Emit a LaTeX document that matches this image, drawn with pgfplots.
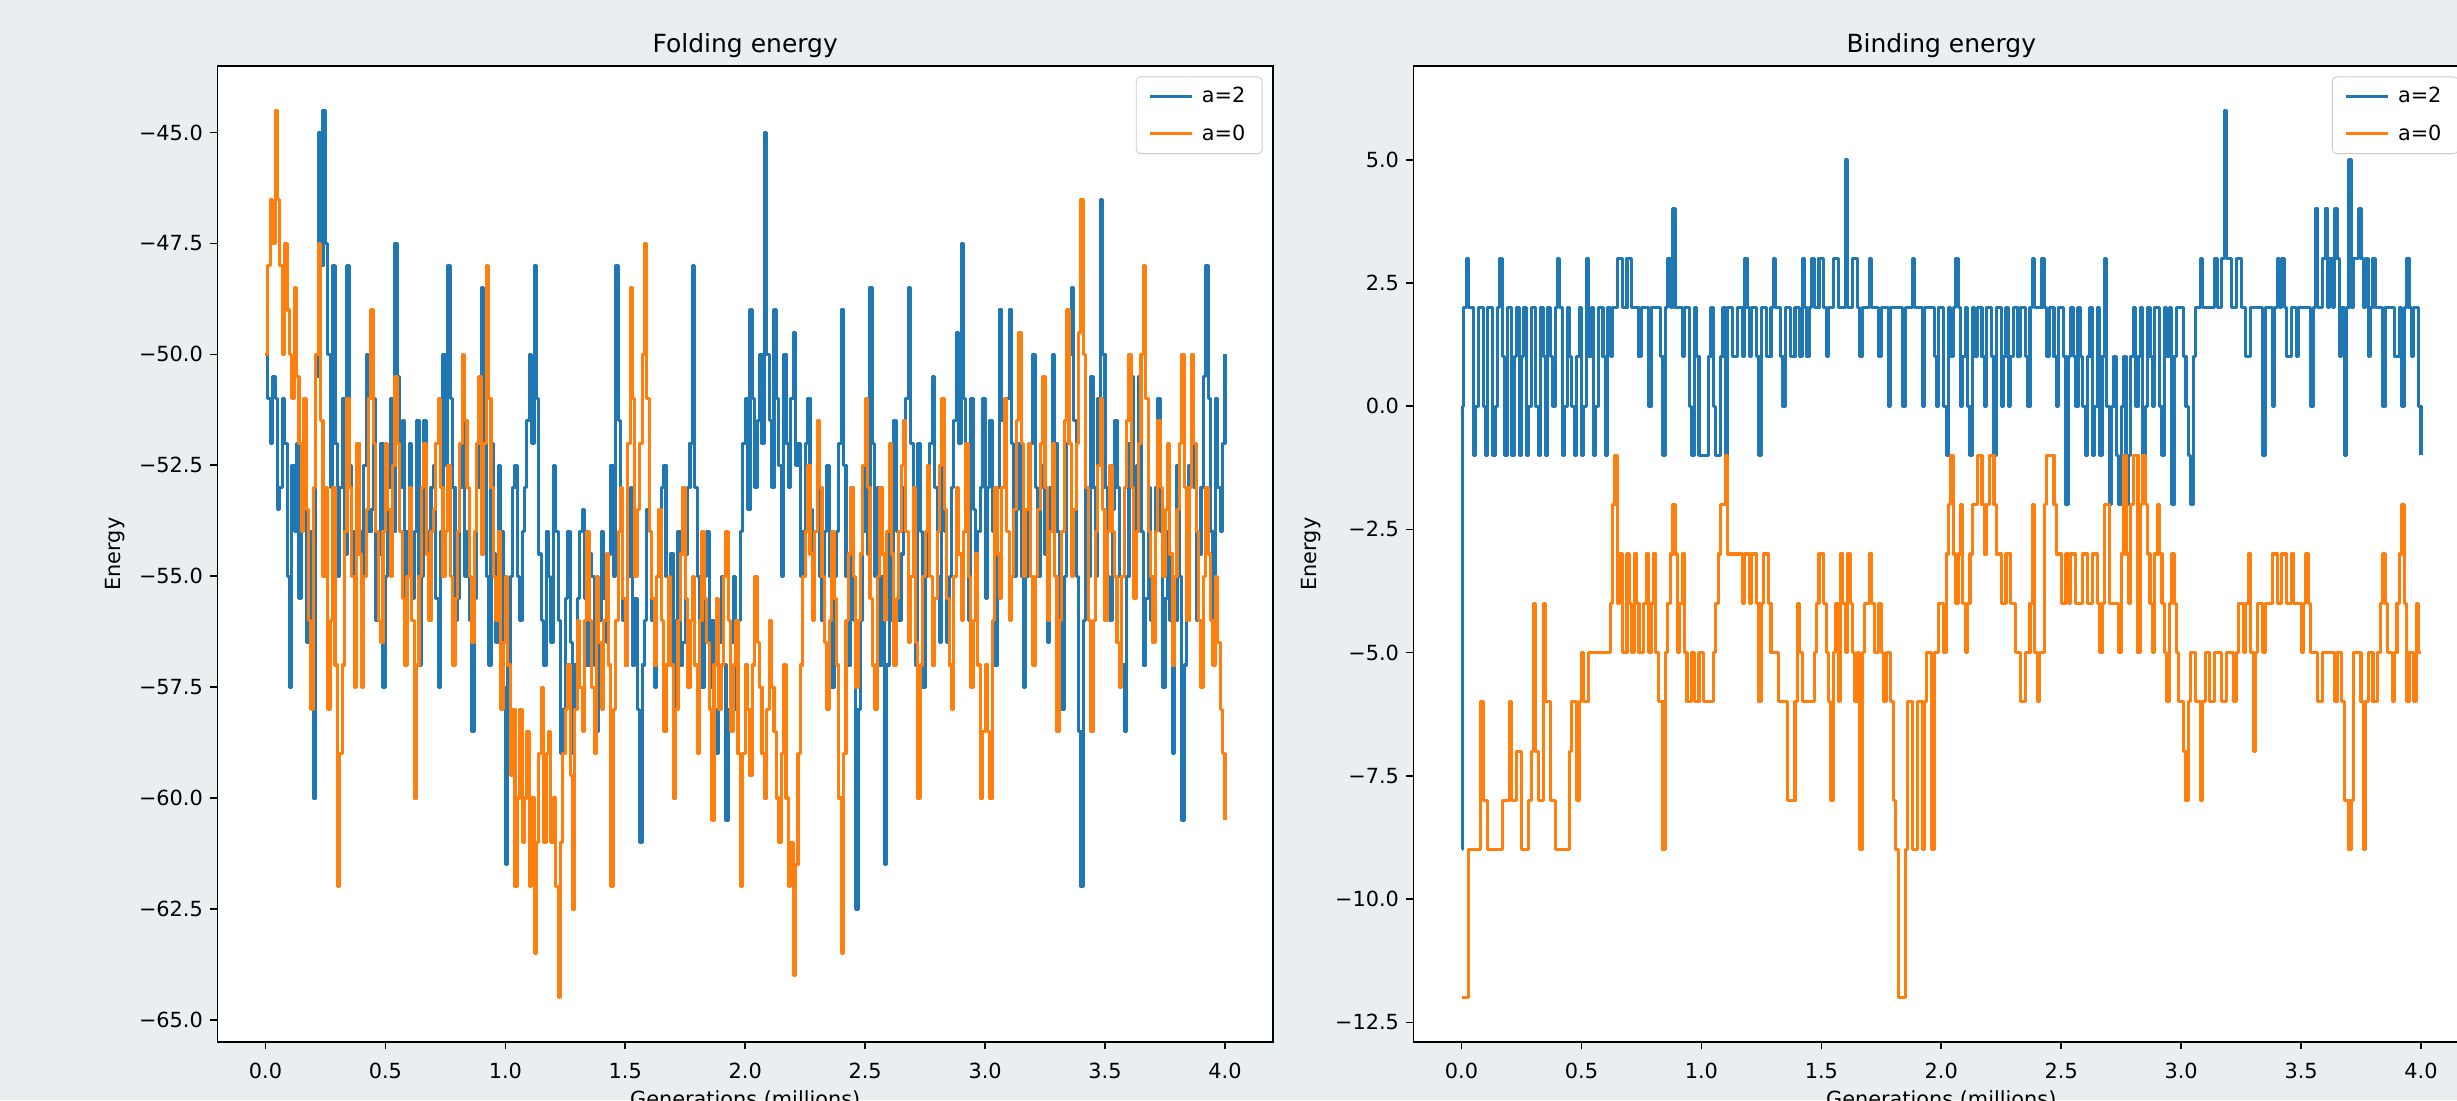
\documentclass[border=0pt]{standalone}
\usepackage{fontspec}
\setmainfont{DejaVu Sans}
\usepackage{pgfplots}
\pgfplotsset{compat=1.18}
\usepackage{pgfplotstable}
\definecolor{mblue}{HTML}{1F77B4}
\definecolor{morange}{HTML}{FF7F0E}
\definecolor{bgcol}{RGB}{233,239,241}

\pgfplotstableread{
x f2 f0
0.00 -50 -50
0.01 -51 -48
0.02 -52 -46.5
0.03 -50.5 -47.5
0.04 -51 -44.5
0.05 -53.5 -46.5
0.06 -53 -48
0.07 -51 -50
0.08 -52 -47.5
0.09 -55 -49
0.10 -57.5 -50
0.11 -52.5 -51
0.12 -54 -48.5
0.13 -52 -50.5
0.14 -55.5 -52
0.15 -54 -54
0.16 -53.5 -51
0.17 -56.5 -53.5
0.18 -56 -56
0.19 -54 -58
0.20 -60 -53
0.21 -50.5 -50
0.22 -45 -47.5
0.23 -48 -51.5
0.24 -44.5 -55
0.25 -47.5 -53
0.26 -50 -58
0.27 -53 -56
0.28 -48 -53
0.29 -52 -57
0.30 -55 -62
0.31 -53 -59
0.32 -51 -57
0.33 -54.5 -54
0.34 -48 -51
0.35 -52.5 -53
0.36 -54 -55
0.37 -55.5 -57.5
0.38 -52 -52
0.39 -54 -54.5
0.40 -55.5 -57.5
0.41 -52.5 -55
0.42 -50 -53.5
0.43 -54 -51
0.44 -53.5 -49
0.45 -51 -52
0.46 -56 -54
0.47 -54.5 -56
0.48 -52 -56.5
0.49 -57.5 -54
0.50 -55 -52
0.51 -53 -53.5
0.52 -51 -55
0.53 -54 -52.5
0.54 -47.5 -50.5
0.55 -50.5 -52
0.56 -53 -54
0.57 -51.5 -55.5
0.58 -56.5 -57
0.59 -54 -55
0.60 -52 -53
0.61 -55.5 -56
0.62 -54 -60
0.63 -51.5 -57
0.64 -57 -55
0.65 -55 -53
0.66 -51.5 -52
0.67 -54 -54.5
0.68 -55 -56
0.69 -53 -54
0.70 -52.5 -53.5
0.71 -55.5 -52
0.72 -57.5 -51
0.73 -54 -53
0.74 -50 -55
0.75 -52.5 -54
0.76 -48 -52.5
0.77 -51 -55
0.78 -53 -57
0.79 -56 -55.5
0.80 -55.5 -54
0.81 -53 -52
0.82 -51 -50
0.83 -55 -51.5
0.84 -54 -53
0.85 -56 -55
0.86 -58.5 -56.5
0.87 -55.5 -54
0.88 -53 -52
0.89 -51 -50.5
0.90 -48.5 -54.5
0.91 -52 -52
0.92 -55 -48
0.93 -57 -51
0.94 -52 -53
0.95 -54.5 -55
0.96 -56.5 -56
0.97 -52.5 -54
0.98 -54 -58
0.99 -57.5 -56.5
1.00 -61.5 -55
1.01 -57 -57
1.02 -55 -59.5
1.03 -53 -58
1.04 -52.5 -62
1.05 -55 -60
1.06 -56 -58
1.07 -54 -61
1.08 -53 -60
1.09 -51.5 -58.5
1.10 -50 -62
1.11 -52 -60
1.12 -48 -63.5
1.13 -51 -61
1.14 -54.5 -59
1.15 -56 -57.5
1.16 -57 -61
1.17 -54 -59
1.18 -55 -58.5
1.19 -56.5 -61
1.20 -52.5 -60
1.21 -54 -62
1.22 -56 -64.5
1.23 -59 -61
1.24 -58 -59
1.25 -55.5 -58
1.26 -54 -57
1.27 -56.5 -59.5
1.28 -59 -62.5
1.29 -57 -58
1.30 -55.5 -56
1.31 -54 -57.5
1.32 -53.5 -58.5
1.33 -55.5 -56
1.34 -57 -54
1.35 -54.5 -56
1.36 -55 -57.5
1.37 -57 -59
1.38 -58.5 -55
1.39 -56 -56.5
1.40 -54 -58
1.41 -55.5 -56
1.42 -56.5 -54.5
1.43 -54.5 -57
1.44 -52.5 -62
1.45 -55 -58
1.46 -48 -56
1.47 -51.5 -54
1.48 -54 -53
1.49 -56 -55.5
1.50 -57 -57
1.51 -55 -52
1.52 -53 -48.5
1.53 -57 -51
1.54 -55.5 -55
1.55 -58 -53.5
1.56 -61 -52
1.57 -57 -50
1.58 -56 -47.5
1.59 -53.5 -51
1.60 -54 -54
1.61 -56 -55.5
1.62 -57.5 -57
1.63 -55 -55
1.64 -55 -53.5
1.65 -53 -56
1.66 -52.5 -58.5
1.67 -55 -57
1.68 -56 -55
1.69 -54.5 -57
1.70 -58 -60
1.71 -56 -58
1.72 -54 -56
1.73 -57 -54.5
1.74 -56.5 -53
1.75 -54.5 -55.5
1.76 -53 -57.5
1.77 -52 -56
1.78 -48 -55
1.79 -53 -57
1.80 -55 -59
1.81 -56 -56
1.82 -57.5 -54
1.83 -55 -55.5
1.84 -54 -56.5
1.85 -57.5 -58
1.86 -56 -60.5
1.87 -58 -57
1.88 -59 -55.5
1.89 -56.5 -58
1.90 -55 -57
1.91 -57 -55
1.92 -60.5 -54
1.93 -58 -56
1.94 -56.5 -58.5
1.95 -55 -57
1.96 -58 -56
1.97 -56 -59
1.98 -54 -62
1.99 -52 -59
2.00 -51 -57
2.01 -53.5 -58
2.02 -49 -59.5
2.03 -51 -57
2.04 -53 -55
2.05 -51.5 -56.5
2.06 -50 -57.5
2.07 -52 -59
2.08 -45 -60
2.09 -50 -58
2.10 -51.5 -56
2.11 -53 -57.5
2.12 -49 -58.5
2.13 -51 -60
2.14 -52.5 -61
2.15 -55 -59
2.16 -50 -57
2.17 -52 -60
2.18 -53 -62
2.19 -51 -61
2.20 -49.5 -64
2.21 -52.5 -61.5
2.22 -52 -59
2.23 -55 -57
2.24 -54 -55
2.25 -52 -54
2.26 -51 -52.5
2.27 -53.5 -54.5
2.28 -55.5 -56
2.29 -54 -54
2.30 -53 -51.5
2.31 -55 -53
2.32 -56 -55
2.33 -54 -56.5
2.34 -52.5 -58
2.35 -55 -56
2.36 -57.5 -54
2.37 -55 -55.5
2.38 -54 -57
2.39 -52 -60
2.40 -49 -63.5
2.41 -52.5 -59
2.42 -55 -56
2.43 -57 -54.5
2.44 -53 -53
2.45 -56 -55
2.46 -62.5 -57.5
2.47 -58 -56
2.48 -56 -54.5
2.49 -54 -52.5
2.50 -52 -51
2.51 -54.5 -53
2.52 -48.5 -55.5
2.53 -52 -57
2.54 -55 -58
2.55 -53 -55
2.56 -57 -53
2.57 -55 -54.5
2.58 -61.5 -56
2.59 -57 -54
2.60 -54 -52
2.61 -56 -54.5
2.62 -51.5 -57
2.63 -54 -55.5
2.64 -56 -54
2.65 -54.5 -52.5
2.66 -53 -51.5
2.67 -51 -54
2.68 -48.5 -56.5
2.69 -52 -55
2.70 -55 -53
2.71 -57 -56.5
2.72 -52 -60
2.73 -54 -57
2.74 -57.5 -55
2.75 -55 -54
2.76 -53.5 -52.5
2.77 -52 -55
2.78 -50.5 -57
2.79 -53 -55.5
2.80 -55 -54
2.81 -56.5 -52.5
2.82 -52 -51
2.83 -54 -53.5
2.84 -56.5 -55.5
2.85 -55 -57
2.86 -53 -58
2.87 -51.5 -55
2.88 -49.5 -53
2.89 -52 -54.5
2.90 -47.5 -56
2.91 -51 -54
2.92 -54 -52
2.93 -56 -55
2.94 -51 -57.5
2.95 -53.5 -56
2.96 -56 -54.5
2.97 -54 -57
2.98 -53 -60
2.99 -51 -58.5
3.00 -55.5 -57
3.01 -53 -58.5
3.02 -51.5 -60
3.03 -54 -56
3.04 -57 -53
3.05 -53 -54.5
3.06 -49 -55.5
3.07 -51.5 -53
3.08 -53 -51
3.09 -51 -54
3.10 -49 -56
3.11 -52 -55
3.12 -55 -53.5
3.13 -53.5 -51.5
3.14 -52 -49.5
3.15 -55 -52
3.16 -57.5 -55
3.17 -55 -53.5
3.18 -53.5 -52
3.19 -52 -55
3.20 -50 -57
3.21 -53 -55
3.22 -55 -53.5
3.23 -53 -52
3.24 -52.5 -50.5
3.25 -54.5 -53
3.26 -56.5 -56
3.27 -53 -54
3.28 -50 -52
3.29 -52 -55
3.30 -54 -58.5
3.31 -56 -56
3.32 -58 -54
3.33 -55 -51.5
3.34 -52 -49
3.35 -50 -52
3.36 -48.5 -55
3.37 -51.5 -53.5
3.38 -55 -52
3.39 -58.5 -49.5
3.40 -62 -46.5
3.41 -56 -50
3.42 -53 -53
3.43 -55 -56
3.44 -50.5 -58.5
3.45 -53 -56
3.46 -55 -54
3.47 -51 -52.5
3.48 -46.5 -51
3.49 -50 -53.5
3.50 -53 -56
3.51 -55 -54
3.52 -56 -52.5
3.53 -53.5 -54
3.54 -51.5 -55
3.55 -53 -56.5
3.56 -55 -57.5
3.57 -57 -55
3.58 -58.5 -53
3.59 -55 -51.5
3.60 -52 -50
3.61 -50.5 -53
3.62 -54.5 -55.5
3.63 -52.5 -54
3.64 -50.5 -52
3.65 -54 -50
3.66 -57 -48
3.67 -55.5 -51
3.68 -53 -54
3.69 -56 -55
3.70 -55.5 -56.5
3.71 -53 -54
3.72 -51 -51.5
3.73 -54 -53
3.74 -57.5 -55
3.75 -55.5 -53.5
3.76 -54 -52
3.77 -56 -54.5
3.78 -59 -57
3.79 -56 -55
3.80 -52.5 -53.5
3.81 -55 -52
3.82 -60.5 -50
3.83 -57 -53
3.84 -55 -56
3.85 -52.5 -53
3.86 -50 -50
3.87 -53 -52
3.88 -56 -54
3.89 -54.5 -56
3.90 -53 -57.5
3.91 -50.5 -55
3.92 -48 -53
3.93 -51 -54.5
3.94 -54 -56
3.95 -56 -57
3.96 -51 -55
3.97 -53 -56.5
3.98 -54 -58
3.99 -52 -59
4.00 -50 -60.5
}\fold

\pgfplotstableread{
x b2 b0
0.000 -9 -12
0.005 0 -12
0.01 2 -12
0.02 3 -12
0.03 2 -9
0.04 2 -9
0.05 -1 -9
0.06 0 -9
0.07 2 -9
0.08 2 -6
0.09 0 -8
0.10 -1 -8
0.11 2 -9
0.12 2 -9
0.13 -1 -9
0.14 0 -9
0.15 2 -9
0.16 3 -9
0.17 1 -8
0.18 -1 -8
0.19 2 -8
0.20 2 -6
0.21 -1 -8
0.22 1 -8
0.23 2 -7
0.24 -1 -7
0.25 1 -9
0.26 2 -9
0.27 -1 -9
0.28 0 -8
0.29 2 -7
0.30 2 -4
0.31 0 -7
0.32 -1 -8
0.33 2 -8
0.34 1 -4
0.35 -1 -6
0.36 2 -6
0.37 1 -8
0.38 0 -8
0.39 2 -9
0.40 3 -9
0.41 2 -9
0.42 -1 -9
0.43 0 -9
0.44 2 -9
0.45 1 -7
0.46 0 -6
0.47 -1 -6
0.48 1 -8
0.49 2 -6
0.50 -1 -5
0.51 0 -6
0.52 3 -6
0.53 1 -5
0.54 2 -5
0.55 -1 -5
0.56 0 -5
0.57 2 -5
0.58 2 -5
0.59 1 -5
0.60 -1 -5
0.61 2 -5
0.62 1 -4
0.63 2 -2
0.64 2 -1
0.65 3 -4
0.66 3 -3
0.67 2 -5
0.68 2 -5
0.69 3 -3
0.70 3 -4
0.71 2 -5
0.72 2 -3
0.73 2 -4
0.74 1 -5
0.75 2 -5
0.76 2 -4
0.77 2 -3
0.78 0 -5
0.79 2 -4
0.80 2 -3
0.81 2 -5
0.82 2 -6
0.83 1 -6
0.84 -1 -9
0.85 2 -5
0.86 3 -4
0.87 2 -3
0.88 4 -2
0.89 2 -3
0.90 2 -5
0.91 2 -4
0.92 1 -3
0.93 2 -5
0.94 2 -6
0.95 0 -6
0.96 -1 -5
0.97 2 -6
0.98 1 -6
0.99 -1 -5
1.00 -1 -5
1.01 -1 -6
1.02 -1 -6
1.03 1 -6
1.04 2 -6
1.05 0 -5
1.06 -1 -4
1.07 -1 -3
1.08 1 -2
1.09 2 -2
1.10 -1 -1
1.11 2 -3
1.12 2 -3
1.13 1 -3
1.14 1 -3
1.15 2 -3
1.16 2 -3
1.17 1 -4
1.18 3 -3
1.19 2 -3
1.20 1 -4
1.21 2 -3
1.22 2 -3
1.23 1 -4
1.24 -1 -6
1.25 2 -4
1.26 2 -3
1.27 1 -3
1.28 1 -4
1.29 2 -5
1.30 3 -5
1.31 2 -5
1.32 2 -6
1.33 1 -6
1.34 0 -6
1.35 2 -6
1.36 2 -8
1.37 1 -8
1.38 1 -8
1.39 2 -6
1.40 2 -4
1.41 1 -5
1.42 3 -6
1.43 2 -6
1.44 1 -6
1.45 2 -6
1.46 3 -6
1.47 2 -5
1.48 2 -4
1.49 3 -3
1.50 3 -3
1.51 2 -4
1.52 1 -5
1.53 2 -6
1.54 2 -8
1.55 3 -5
1.56 3 -4
1.57 2 -6
1.58 2 -3
1.59 2 -4
1.60 5 -5
1.61 2 -3
1.62 2 -4
1.63 3 -5
1.64 3 -6
1.65 2 -5
1.66 1 -9
1.67 2 -5
1.68 2 -4
1.69 2 -4
1.70 3 -3
1.71 2 -4
1.72 2 -5
1.73 2 -5
1.74 1 -4
1.75 2 -5
1.76 2 -6
1.77 2 -5
1.78 0 -5
1.79 2 -6
1.80 2 -8
1.81 2 -9
1.82 2 -12
1.83 2 -12
1.84 0 -12
1.85 2 -9
1.86 2 -6
1.87 2 -6
1.88 3 -9
1.89 2 -9
1.90 2 -6
1.91 2 -6
1.92 0 -9
1.93 2 -6
1.94 2 -5
1.95 2 -5
1.96 2 -9
1.97 1 -5
1.98 0 -5
1.99 2 -4
2.00 2 -4
2.01 0 -5
2.02 -1 -3
2.03 2 -2
2.04 1 -1
2.05 2 -3
2.06 3 -4
2.07 2 -3
2.08 0 -2
2.09 1 -4
2.10 2 -5
2.11 0 -4
2.12 -1 -3
2.13 2 -2
2.14 1 -2
2.15 2 -1
2.16 2 -1
2.17 1 -2
2.18 0 -3
2.19 2 -2
2.20 2 -1
2.21 1 -1
2.22 -1 -2
2.23 2 -3
2.24 2 -3
2.25 0 -4
2.26 1 -4
2.27 2 -3
2.28 0 -3
2.29 1 -4
2.30 2 -4
2.31 2 -5
2.32 1 -5
2.33 2 -6
2.34 2 -6
2.35 1 -5
2.36 0 -5
2.37 2 -4
2.38 3 -2
2.39 2 -5
2.40 2 -6
2.41 2 -5
2.42 3 -5
2.43 2 -2
2.44 1 -1
2.45 2 -1
2.46 2 -1
2.47 1 -2
2.48 0 -3
2.49 2 -3
2.50 2 -4
2.51 1 -4
2.52 -2 -3
2.53 1 -4
2.54 2 -3
2.55 1 -3
2.56 0 -4
2.57 2 -4
2.58 1 -4
2.59 0 -3
2.60 -1 -3
2.61 1 -4
2.62 2 -4
2.63 -1 -3
2.64 0 -3
2.65 2 -4
2.66 -1 -5
2.67 1 -4
2.68 3 -2
2.69 0 -2
2.70 -2 -4
2.71 0 -4
2.72 1 -4
2.73 -1 -4
2.74 -2 -5
2.75 0 -3
2.76 1 -1
2.77 -2 -3
2.78 -1 -4
2.79 1 -2
2.80 2 -1
2.81 0 -1
2.82 1 -5
2.83 2 -2
2.84 -1 -1
2.85 0 -2
2.86 2 -3
2.87 1 -4
2.88 0 -5
2.89 2 -3
2.90 2 -2
2.91 0 -3
2.92 -1 -4
2.93 2 -5
2.94 1 -6
2.95 2 -4
2.96 -2 -3
2.97 1 -4
2.98 2 -5
2.99 2 -6
3.00 2 -6
3.01 1 -7
3.02 0 -8
3.03 -1 -6
3.04 -2 -5
3.05 1 -5
3.06 2 -6
3.07 2 -6
3.08 3 -8
3.09 2 -6
3.10 2 -5
3.11 2 -5
3.12 2 -6
3.13 2 -6
3.14 3 -5
3.15 2 -5
3.16 2 -5
3.17 3 -6
3.18 6 -6
3.19 3 -5
3.20 3 -5
3.21 2 -5
3.22 2 -6
3.23 3 -5
3.24 3 -4
3.25 2 -4
3.26 2 -5
3.27 1 -4
3.28 1 -3
3.29 2 -5
3.30 2 -7
3.31 2 -5
3.32 2 -4
3.33 2 -4
3.34 -1 -5
3.35 2 -4
3.36 2 -4
3.37 2 -4
3.38 0 -3
3.39 2 -3
3.40 3 -4
3.41 2 -4
3.42 3 -3
3.43 2 -3
3.44 1 -4
3.45 1 -4
3.46 2 -3
3.47 2 -4
3.48 1 -4
3.49 2 -4
3.50 2 -5
3.51 2 -4
3.52 2 -3
3.53 2 -4
3.54 0 -5
3.55 2 -5
3.56 4 -5
3.57 2 -6
3.58 2 -6
3.59 3 -5
3.60 4 -5
3.61 2 -5
3.62 3 -5
3.63 2 -5
3.64 4 -6
3.65 3 -5
3.66 1 -5
3.67 2 -6
3.68 -1 -8
3.69 2 -8
3.70 5 -9
3.71 2 -8
3.72 3 -5
3.73 3 -5
3.74 4 -5
3.75 3 -6
3.76 2 -9
3.77 3 -6
3.78 1 -5
3.79 2 -5
3.80 3 -6
3.81 2 -6
3.82 2 -5
3.83 2 -4
3.84 0 -3
3.85 2 -4
3.86 2 -5
3.87 2 -5
3.88 2 -6
3.89 1 -5
3.90 1 -4
3.91 2 -3
3.92 0 -2
3.93 2 -4
3.94 3 -6
3.95 2 -5
3.96 1 -5
3.97 2 -6
3.98 2 -4
3.99 0 -5
4.00 -1 -5
}\bind

\pgfplotsset{
  mpl/.style={
    scale only axis, width=506.6pt, height=468.5pt,
    xmin=-0.2, xmax=4.2,
    xtick={0,0.5,1,1.5,2,2.5,3,3.5,4},
    xticklabels={0.0,0.5,1.0,1.5,2.0,2.5,3.0,3.5,4.0},
    tick align=outside, tick pos=left,
    major tick length=3.5pt,
    every tick/.style={black, line width=0.8pt},
    axis line style={black, line width=0.8pt},
    ticklabel style={font=\fontsize{10}{12}\selectfont},
    xticklabel style={yshift=-3pt},
    xlabel={Generations (millions)}, ylabel={Energy},
    label style={font=\fontsize{10}{12}\selectfont},
    xlabel style={yshift=1pt},
    title style={font=\fontsize{12}{14}\selectfont, at={(0.5,1)}, anchor=south, inner sep=0pt, yshift=-2pt},
    axis background/.style={fill=white},
    legend style={at={(1,1)}, anchor=north east, xshift=-5pt, yshift=-5pt,
      draw=black!20, rounded corners=2pt, fill=white, fill opacity=0.8, text opacity=1,
      inner xsep=6pt, inner ysep=3pt, row sep=5pt, column sep=2pt,
      font=\fontsize{10}{12}\selectfont, cells={anchor=west}},
    legend image code/.code={\draw[#1, line width=1.5pt] (0pt,0pt) -- (20pt,0pt);},
    every axis plot/.append style={const plot, line width=1.5pt, line join=round},
  }
}

\begin{document}
\begin{tikzpicture}
\useasboundingbox (0pt,0pt) rectangle (1179.36pt,-528pt);
\fill[bgcol] (0pt,0pt) rectangle (1179.36pt,-528pt);
\begin{axis}[mpl, at={(104.4pt,-31.68pt)}, anchor=north west,
  title={Folding energy},
  ymin=-65.5, ymax=-43.5,
  ytick={-65,-62.5,-60,-57.5,-55,-52.5,-50,-47.5,-45},
  yticklabels={−65.0,−62.5,−60.0,−57.5,−55.0,−52.5,−50.0,−47.5,−45.0}]
\addplot[mblue] table[x=x, y=f2] {\fold};
\addlegendentry{a=2}
\addplot[morange] table[x=x, y=f0] {\fold};
\addlegendentry{a=0}
\node[anchor=north east, font=\fontsize{10}{12}\selectfont, inner sep=0pt, yshift=-22pt] at (rel axis cs:1,0) {1e6};
\end{axis}
\begin{axis}[mpl, at={(678.5pt,-31.68pt)}, anchor=north west,
  title={Binding energy},
  ymin=-12.9, ymax=6.9,
  ytick={-12.5,-10,-7.5,-5,-2.5,0,2.5,5},
  yticklabels={−12.5,−10.0,−7.5,−5.0,−2.5,0.0,2.5,5.0}]
\addplot[mblue] table[x=x, y=b2] {\bind};
\addlegendentry{a=2}
\addplot[morange] table[x=x, y=b0] {\bind};
\addlegendentry{a=0}
\node[anchor=north east, font=\fontsize{10}{12}\selectfont, inner sep=0pt, yshift=-22pt] at (rel axis cs:1,0) {1e6};
\end{axis}
\end{tikzpicture}
\end{document}
